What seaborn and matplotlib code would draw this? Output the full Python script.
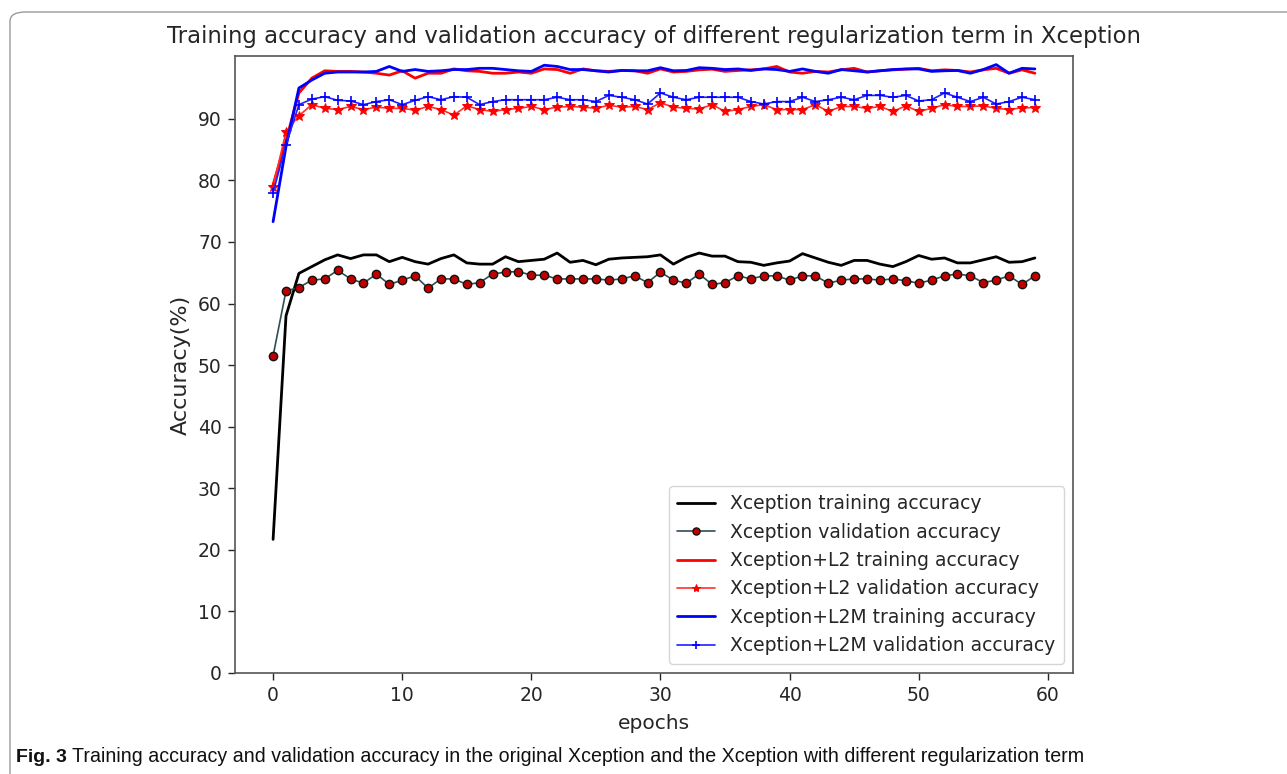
import numpy as np
import pandas as pd
import matplotlib
matplotlib.use("Agg")
import matplotlib.pyplot as plt
from matplotlib.patches import FancyBboxPatch
import seaborn as sns

epochs = list(range(60))

xception_train = [21.7, 58.0, 64.9, 66.0, 67.1, 67.9, 67.3, 67.9, 67.9, 66.8,
                  67.5, 66.8, 66.4, 67.3, 67.9, 66.6, 66.4, 66.4, 67.6, 66.8,
                  67.0, 67.2, 68.2, 66.7, 67.0, 66.3, 67.2, 67.4, 67.5, 67.6,
                  67.9, 66.4, 67.5, 68.2, 67.7, 67.7, 66.8, 66.7, 66.2, 66.6,
                  66.9, 68.1, 67.4, 66.7, 66.2, 67.0, 67.0, 66.4, 66.0, 66.8,
                  67.8, 67.2, 67.4, 66.6, 66.6, 67.1, 67.6, 66.7, 66.8, 67.4]

xception_val = [51.5, 62.05, 62.6, 63.8, 64.0, 65.4, 64.0, 63.3, 64.8, 63.1,
                63.8, 64.5, 62.5, 64.0, 64.0, 63.1, 63.4, 64.8, 65.1, 65.2,
                64.6, 64.6, 64.0, 64.0, 64.0, 64.0, 63.8, 64.0, 64.5, 63.4,
                65.1, 63.8, 63.3, 64.8, 63.1, 63.4, 64.5, 64.0, 64.5, 64.5,
                63.8, 64.5, 64.5, 63.3, 63.8, 64.0, 64.0, 63.8, 64.0, 63.7,
                63.3, 63.8, 64.5, 64.8, 64.5, 63.4, 63.8, 64.5, 63.1, 64.5]

l2_train = [79.3, 86.5, 94.2, 96.6, 97.8, 97.7, 97.7, 97.6, 97.4, 97.1,
            97.8, 96.6, 97.4, 97.4, 98.1, 97.8, 97.7, 97.4, 97.4, 97.6,
            97.4, 98.1, 98.0, 97.4, 98.1, 97.8, 97.7, 97.85, 97.8, 97.4,
            98.1, 97.6, 97.7, 97.95, 98.06, 97.7, 97.85, 97.95, 98.1, 98.5,
            97.6, 97.4, 97.7, 97.6, 97.95, 98.2, 97.6, 97.8, 97.95, 98.06,
            98.2, 97.8, 97.95, 97.85, 97.6, 97.95, 98.2, 97.4, 97.95, 97.4]

l2_val = [79.0, 87.9, 90.5, 92.3, 91.7, 91.5, 92.0, 91.5, 91.9, 91.7,
          91.7, 91.4, 92.0, 91.5, 90.6, 92.1, 91.5, 91.2, 91.5, 91.7,
          92.0, 91.5, 91.9, 92.0, 91.9, 91.7, 92.2, 91.9, 92.0, 91.5,
          92.6, 91.9, 91.7, 91.6, 92.3, 91.2, 91.5, 92.0, 92.3, 91.5,
          91.5, 91.5, 92.3, 91.2, 92.0, 92.0, 91.7, 92.0, 91.2, 92.1,
          91.2, 91.7, 92.3, 92.0, 92.0, 92.1, 91.7, 91.5, 91.8, 91.8]

l2m_train = [73.3, 85.5, 95.0, 96.3, 97.4, 97.6, 97.6, 97.6, 97.7, 98.5,
             97.7, 98.0, 97.7, 97.8, 98.0, 98.0, 98.2, 98.2, 98.0, 97.8,
             97.7, 98.7, 98.5, 98.0, 98.0, 97.8, 97.6, 97.85, 97.8, 97.8,
             98.3, 97.8, 97.85, 98.3, 98.2, 98.0, 98.1, 97.85, 98.1, 98.0,
             97.7, 98.1, 97.7, 97.4, 98.0, 97.8, 97.6, 97.8, 98.0, 98.1,
             98.1, 97.7, 97.8, 97.85, 97.4, 98.0, 98.8, 97.4, 98.2, 98.1]

l2m_val = [78.0, 85.8, 92.3, 93.2, 93.6, 93.0, 92.9, 92.3, 92.8, 93.1,
           92.3, 93.0, 93.6, 93.1, 93.6, 93.5, 92.3, 92.8, 93.1, 93.1,
           93.1, 93.1, 93.5, 93.1, 93.1, 92.8, 93.8, 93.5, 93.1, 92.4,
           94.2, 93.5, 93.1, 93.5, 93.5, 93.5, 93.5, 92.8, 92.4, 92.8,
           92.8, 93.5, 92.8, 93.1, 93.5, 93.1, 93.8, 93.8, 93.5, 93.8,
           92.9, 93.1, 94.2, 93.5, 92.8, 93.5, 92.4, 92.8, 93.5, 93.1]

labels = ["Xception training accuracy", "Xception validation accuracy",
          "Xception+L2 training accuracy", "Xception+L2 validation accuracy",
          "Xception+L2M training accuracy", "Xception+L2M validation accuracy"]
yticks = list(range(0, 100, 10))
xticks = list(range(0, 61, 10))

sns.set_theme(style="ticks")
plt.rcParams["font.family"] = ["DejaVu Sans"]

fig = plt.figure(figsize=(12.87, 7.74), dpi=100)
ax = fig.add_axes([235 / 1287, 1 - 673 / 774, (1073 - 235) / 1287, (673 - 56) / 774])

txt = "#262626"
sns.lineplot(x=epochs, y=xception_train, ax=ax, color="black", linewidth=2.0,
             label=labels[0])
sns.lineplot(x=epochs, y=xception_val, ax=ax, color="#2f4f4f", linewidth=1.2,
             marker="o", markersize=6, markerfacecolor="#c00000",
             markeredgecolor="#111111", markeredgewidth=1.0, label=labels[1])
sns.lineplot(x=epochs, y=l2_train, ax=ax, color="#ff0000", linewidth=2.0,
             label=labels[2])
sns.lineplot(x=epochs, y=l2_val, ax=ax, color="#ff3030", linewidth=1.2,
             marker="*", markersize=7, markerfacecolor="#ff0000",
             markeredgecolor="#ff0000", label=labels[3])
sns.lineplot(x=epochs, y=l2m_train, ax=ax, color="#0000ff", linewidth=2.0,
             label=labels[4])
sns.lineplot(x=epochs, y=l2m_val, ax=ax, color="#2020ff", linewidth=1.2,
             marker="+", markersize=6.5, markeredgewidth=1.2,
             markeredgecolor="#0000ff", label=labels[5])

ax.set_xlim(-2.95, 61.95)
ax.set_ylim(0, 100.2)
ax.set_yticks(yticks)
ax.set_xticks(xticks)
ax.tick_params(axis="both", labelsize=13.5, colors=txt, length=5, width=1.0,
               pad=4.5, direction="out")
for s in ax.spines.values():
    s.set_color("#555555")
    s.set_linewidth(1.2)
    s.set_visible(True)
ax.set_xlabel("epochs", fontsize=14.5, color=txt, labelpad=6)
ax.set_ylabel("Accuracy(%)", fontsize=16, color=txt, labelpad=5)
ax.set_title("Training accuracy and validation accuracy of different regularization term in Xception",
             fontsize=16.4, color=txt, pad=9)

leg = ax.legend(loc="lower right", fontsize=13.5, frameon=True, fancybox=True,
                labelspacing=0.5, handlelength=2.0, borderpad=0.45,
                markerscale=0.85)
leg.get_frame().set_edgecolor("#cccccc")
leg.get_frame().set_linewidth(1.0)
for t in leg.get_texts():
    t.set_color(txt)

# outer figure frame
frame = FancyBboxPatch((10 / 1287, -0.1), 1.2, 1 - 12 / 774 + 0.1,
                       boxstyle="round,pad=0,rounding_size=0.012",
                       transform=fig.transFigure, fill=False,
                       edgecolor="#9a9a9a", linewidth=1.0, clip_on=False)
fig.patches.append(frame)

cap_font = ["Liberation Sans Narrow", "Liberation Sans", "DejaVu Sans"]
fig.text(16 / 1287, 1 - 757 / 774, "Fig. 3", fontsize=14, fontweight="bold",
         family=cap_font, color="#111111", va="center", ha="left")
fig.text(72 / 1287, 1 - 757 / 774,
         "Training accuracy and validation accuracy in the original Xception and the Xception with different regularization term",
         fontsize=14.1, family=cap_font, color="#111111", va="center", ha="left")

fig.savefig("out.png", dpi=100)
